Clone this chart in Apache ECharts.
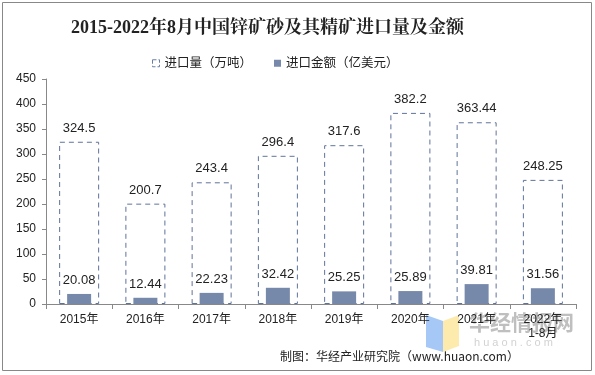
<!DOCTYPE html>
<html>
<head>
<meta charset="utf-8">
<script src="https://cdn.jsdelivr.net/npm/echarts@6/dist/echarts.min.js"></script>
<style>
  html, body { margin: 0; padding: 0; background: #fff; }
  #chart { width: 595px; height: 375px; }
</style>
</head>
<body>
<div id="chart"></div>
<script>
// 数据
var years = ['2015年', '2016年', '2017年', '2018年', '2019年', '2020年', '2021年', '2022年\n1-8月']
var volumeData = [324.5, 200.7, 243.4, 296.4, 317.6, 382.2, 363.44, 248.25]
var amountData = [20.08, 12.44, 22.23, 32.42, 25.25, 25.89, 39.81, 31.56]

var chart = echarts.init(document.getElementById('chart'))
var font = 'Arial, "Liberation Sans", "Noto Sans CJK SC", sans-serif'

chart.setOption({
  animation: false,
  textStyle: { fontFamily: font },
  title: {
    text: '2015-2022年8月中国锌矿砂及其精矿进口量及金额',
    left: 66,
    top: 14,
    textStyle: {
      fontFamily: '"Liberation Serif", "Noto Serif CJK SC", "Noto Sans CJK SC", serif',
      fontSize: 18,
      fontWeight: 'bold',
      color: '#222'
    }
  },
  legend: {
    top: 52,
    left: 147,
    itemWidth: 7,
    itemHeight: 7,
    itemGap: 22,
    textStyle: { fontSize: 12.5, color: '#222' },
    data: [
      { name: '进口量（万吨）', icon: 'rect', itemStyle: { color: '#fff', borderColor: '#6a7ea3', borderWidth: 1, borderType: 'dashed' } },
      { name: '进口金额（亿美元）', icon: 'rect' }
    ]
  },
  graphic: [{
    type: 'rect',
    shape: { x: 2.5, y: 2.5, width: 589, height: 368 },
    style: { fill: 'none', stroke: '#888', lineWidth: 1 },
    silent: true
  }, {
    type: 'text',
    left: 280,
    top: 350,
    style: {
      text: '制图：华经产业研究院（www.huaon.com）',
      font: '12px "Noto Sans CJK SC", sans-serif',
      fill: '#222'
    }
  }, {
    // 水印
    type: 'group',
    silent: true,
    z: 100,
    children: [{
      type: 'polygon',
      shape: { points: [[426, 315], [443, 321], [443, 352], [426, 347]] },
      style: { fill: 'rgba(150,190,245,0.85)' }
    }, {
      type: 'polygon',
      shape: { points: [[443, 321], [459, 315], [459, 346], [443, 352]] },
      style: { fill: 'rgba(253,232,160,0.85)' }
    }, {
      type: 'text',
      x: 469,
      y: 312,
      style: {
        text: '华经情报网',
        font: 'bold 21px "Noto Sans CJK SC", sans-serif',
        fill: 'rgba(175,175,175,0.8)'
      }
    }, {
      type: 'text',
      x: 474,
      y: 337,
      style: {
        text: 'h u a o n . c o m',
        font: '11px Arial, sans-serif',
        fill: 'rgba(195,195,195,0.75)'
      }
    }]
  }],
  grid: {
    left: 46,
    right: 19,
    top: 79,
    bottom: 71
  },
  xAxis: [{
    type: 'category',
    data: years,
    axisLine: { lineStyle: { color: '#888' } },
    axisTick: { show: true, length: 5, lineStyle: { color: '#888' } },
    axisLabel: { color: '#222', fontSize: 12, margin: 9, interval: 0, lineHeight: 14 }
  }, {
    type: 'category',
    data: years,
    show: false
  }],
  yAxis: {
    type: 'value',
    min: 0,
    max: 450,
    interval: 50,
    axisLine: { show: true, lineStyle: { color: '#888' } },
    axisTick: { show: true, length: 4, lineStyle: { color: '#888' } },
    splitLine: { show: false },
    axisLabel: { color: '#222', fontSize: 12, margin: 10 }
  },
  series: [{
    name: '进口量（万吨）',
    type: 'bar',
    xAxisIndex: 0,
    data: volumeData,
    barWidth: 40,
    itemStyle: {
      color: '#fff',
      borderColor: '#5f739a',
      borderWidth: 1,
      borderType: [5, 4]
    },
    label: {
      show: true,
      position: 'top',
      distance: 7,
      color: '#222',
      fontSize: 13
    },
    z: 1
  }, {
    name: '进口金额（亿美元）',
    type: 'bar',
    xAxisIndex: 1,
    data: amountData,
    barWidth: 24,
    itemStyle: { color: '#7789aa' },
    label: {
      show: true,
      position: 'top',
      distance: 7,
      color: '#222',
      fontSize: 13
    },
    z: 2
  }]
})
</script>
</body>
</html>
